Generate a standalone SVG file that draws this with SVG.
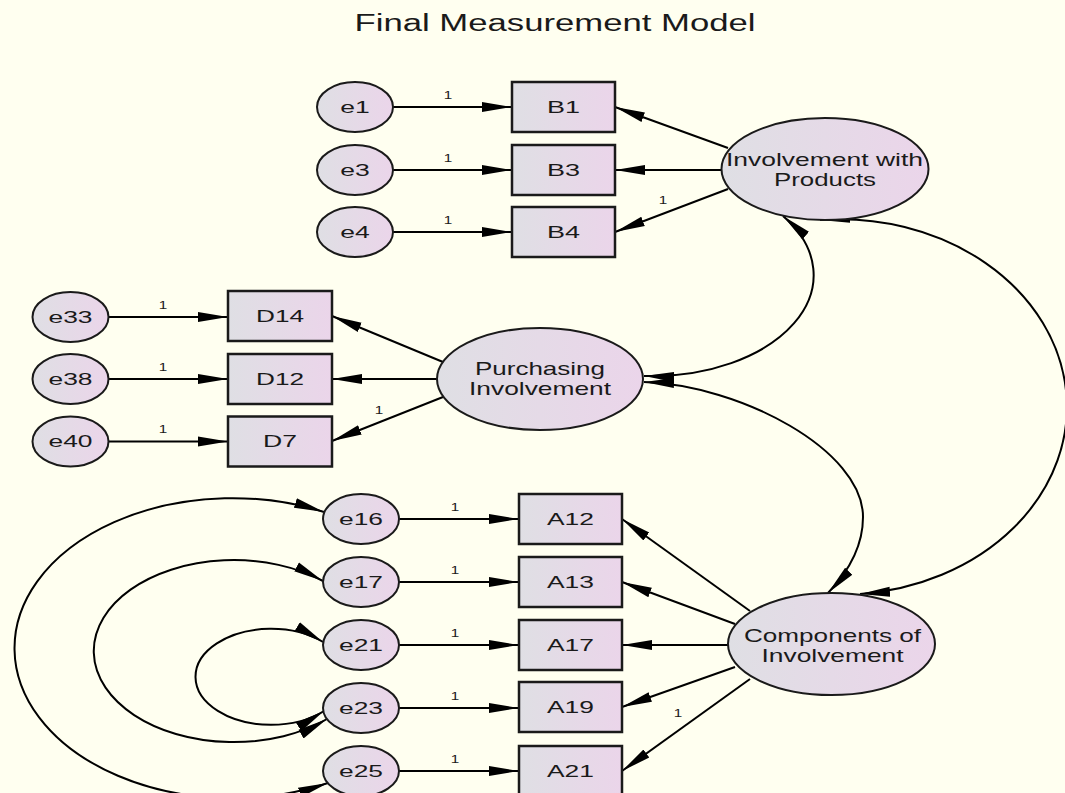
<svg xmlns="http://www.w3.org/2000/svg" width="1065" height="793" viewBox="0 0 1065 793">
<defs>
<linearGradient id="fill" x1="0" y1="0" x2="1" y2="0">
<stop offset="0" stop-color="#dfdfe4"/>
<stop offset="1" stop-color="#ebd5ea"/>
</linearGradient>
<marker id="ah" markerUnits="userSpaceOnUse" markerWidth="30" markerHeight="12" refX="30" refY="6" orient="auto-start-reverse" viewBox="0 0 30 12">
<path d="M0,1 L30,6 L0,11 Z" fill="#000"/>
</marker>
</defs>
<style>
.node rect{fill:url(#fill);stroke:#1a1a1a;stroke-width:2.5}
.node ellipse{fill:url(#fill);stroke:#1a1a1a;stroke-width:2}
text{font-family:"Liberation Sans",Arial,sans-serif;fill:#1a1a1a;text-anchor:middle}
.lbl{font-size:15.8px}
.big{font-size:17.8px}
.one{font-size:11px}
.title{font-size:23px}
#connectors path{stroke:#000;stroke-width:2;fill:none;marker-end:url(#ah)}
#connectors path.cov{marker-start:url(#ah)}
</style>
<rect x="0" y="0" width="1065" height="793" fill="#fffff0"/>
<text class="title" x="555" y="31" textLength="401" lengthAdjust="spacingAndGlyphs">Final Measurement Model</text>

<g id="connectors">
<path d="M393,107 H512"/>
<path d="M393,170 H512"/>
<path d="M393,232 H512"/>
<path d="M728,148 L615,107"/>
<path d="M721,170 L615,170"/>
<path d="M728,189 L615,232"/>
<path d="M108.5,317 H228"/>
<path d="M108.5,379 H228"/>
<path d="M108.5,441.5 H228"/>
<path d="M443,362 L332,316"/>
<path d="M437,379 L332,379"/>
<path d="M443,397 L332,441"/>
<path d="M399,519 H519"/>
<path d="M399,582 H519"/>
<path d="M399,645 H519"/>
<path d="M399,708 H519"/>
<path d="M399,771 H519"/>
<path d="M750,611 L622,519"/>
<path d="M735,624 L622,582"/>
<path d="M728,645 L622,645"/>
<path d="M735,667 L622,707"/>
<path d="M750,679 L622,771"/>
<path class="cov" d="M783,216 A162,101 0 0 1 644,376"/>
<path class="cov" d="M644,382 C740,385 863,450 863,517 C863,545 850,570 828,593"/>
<path class="cov" d="M820,220 A226,187 0 0 1 860,594"/>
<path class="cov" d="M324,512 A218,150 0 1 0 328,783"/>
<path class="cov" d="M323,581 A140,91 0 1 0 327,719"/>
<path class="cov" d="M323,642 A75.5,48 0 1 0 324,711"/>
<text class="one" x="448" y="98.5" textLength="8.5" lengthAdjust="spacingAndGlyphs">1</text>
<text class="one" x="448" y="161.5" textLength="8.5" lengthAdjust="spacingAndGlyphs">1</text>
<text class="one" x="448" y="223.5" textLength="8.5" lengthAdjust="spacingAndGlyphs">1</text>
<text class="one" x="663" y="204" textLength="8.5" lengthAdjust="spacingAndGlyphs">1</text>
<text class="one" x="163" y="308.5" textLength="8.5" lengthAdjust="spacingAndGlyphs">1</text>
<text class="one" x="163" y="370.5" textLength="8.5" lengthAdjust="spacingAndGlyphs">1</text>
<text class="one" x="163" y="433" textLength="8.5" lengthAdjust="spacingAndGlyphs">1</text>
<text class="one" x="379" y="414" textLength="8.5" lengthAdjust="spacingAndGlyphs">1</text>
<text class="one" x="455" y="510.5" textLength="8.5" lengthAdjust="spacingAndGlyphs">1</text>
<text class="one" x="455" y="573.5" textLength="8.5" lengthAdjust="spacingAndGlyphs">1</text>
<text class="one" x="455" y="636.5" textLength="8.5" lengthAdjust="spacingAndGlyphs">1</text>
<text class="one" x="455" y="699.5" textLength="8.5" lengthAdjust="spacingAndGlyphs">1</text>
<text class="one" x="455" y="762.5" textLength="8.5" lengthAdjust="spacingAndGlyphs">1</text>
<text class="one" x="678" y="717" textLength="8.5" lengthAdjust="spacingAndGlyphs">1</text>
</g>

<g id="e1" class="node"><ellipse cx="355" cy="107" rx="38" ry="25"/><text class="lbl" x="355" y="112.7" textLength="29.5" lengthAdjust="spacingAndGlyphs">e1</text></g>
<g id="e3" class="node"><ellipse cx="355" cy="170" rx="38" ry="25"/><text class="lbl" x="355" y="175.7" textLength="29.5" lengthAdjust="spacingAndGlyphs">e3</text></g>
<g id="e4" class="node"><ellipse cx="355" cy="232" rx="38" ry="25"/><text class="lbl" x="355" y="237.7" textLength="29.5" lengthAdjust="spacingAndGlyphs">e4</text></g>
<g id="B1" class="node"><rect x="512" y="82" width="103" height="50"/><text class="lbl" x="563.5" y="112.7" textLength="33" lengthAdjust="spacingAndGlyphs">B1</text></g>
<g id="B3" class="node"><rect x="512" y="145" width="103" height="50"/><text class="lbl" x="563.5" y="175.7" textLength="33" lengthAdjust="spacingAndGlyphs">B3</text></g>
<g id="B4" class="node"><rect x="512" y="207" width="103" height="50"/><text class="lbl" x="563.5" y="237.7" textLength="33" lengthAdjust="spacingAndGlyphs">B4</text></g>
<g id="IwP" class="node"><ellipse cx="825" cy="169" rx="103.5" ry="51"/><text class="big" x="824.5" y="166" textLength="197" lengthAdjust="spacingAndGlyphs">Involvement with</text><text class="big" x="825" y="185.5" textLength="102" lengthAdjust="spacingAndGlyphs">Products</text></g>

<g id="e33" class="node"><ellipse cx="70.5" cy="317" rx="38" ry="25"/><text class="lbl" x="70.5" y="322.7" textLength="44" lengthAdjust="spacingAndGlyphs">e33</text></g>
<g id="e38" class="node"><ellipse cx="70.5" cy="379" rx="38" ry="25"/><text class="lbl" x="70.5" y="384.7" textLength="44" lengthAdjust="spacingAndGlyphs">e38</text></g>
<g id="e40" class="node"><ellipse cx="70.5" cy="441.5" rx="38" ry="25"/><text class="lbl" x="70.5" y="447.2" textLength="44" lengthAdjust="spacingAndGlyphs">e40</text></g>
<g id="D14" class="node"><rect x="228" y="291" width="104" height="50"/><text class="lbl" x="280" y="321.7" textLength="48" lengthAdjust="spacingAndGlyphs">D14</text></g>
<g id="D12" class="node"><rect x="228" y="354" width="104" height="50"/><text class="lbl" x="280" y="384.7" textLength="48" lengthAdjust="spacingAndGlyphs">D12</text></g>
<g id="D7" class="node"><rect x="228" y="416.5" width="104" height="50"/><text class="lbl" x="280" y="447.2" textLength="34" lengthAdjust="spacingAndGlyphs">D7</text></g>
<g id="PI" class="node"><ellipse cx="540" cy="379" rx="103" ry="51"/><text class="big" x="540" y="375" textLength="130" lengthAdjust="spacingAndGlyphs">Purchasing</text><text class="big" x="540" y="394.5" textLength="142" lengthAdjust="spacingAndGlyphs">Involvement</text></g>

<g id="e16" class="node"><ellipse cx="361" cy="519" rx="38" ry="25"/><text class="lbl" x="361" y="524.7" textLength="44" lengthAdjust="spacingAndGlyphs">e16</text></g>
<g id="e17" class="node"><ellipse cx="361" cy="582" rx="38" ry="25"/><text class="lbl" x="361" y="587.7" textLength="44" lengthAdjust="spacingAndGlyphs">e17</text></g>
<g id="e21" class="node"><ellipse cx="361" cy="645" rx="38" ry="25"/><text class="lbl" x="361" y="650.7" textLength="44" lengthAdjust="spacingAndGlyphs">e21</text></g>
<g id="e23" class="node"><ellipse cx="361" cy="708" rx="38" ry="25"/><text class="lbl" x="361" y="713.7" textLength="44" lengthAdjust="spacingAndGlyphs">e23</text></g>
<g id="e25" class="node"><ellipse cx="361" cy="771" rx="38" ry="25"/><text class="lbl" x="361" y="776.7" textLength="44" lengthAdjust="spacingAndGlyphs">e25</text></g>
<g id="A12" class="node"><rect x="519" y="494" width="103" height="50"/><text class="lbl" x="570.5" y="524.7" textLength="47" lengthAdjust="spacingAndGlyphs">A12</text></g>
<g id="A13" class="node"><rect x="519" y="557" width="103" height="50"/><text class="lbl" x="570.5" y="587.7" textLength="47" lengthAdjust="spacingAndGlyphs">A13</text></g>
<g id="A17" class="node"><rect x="519" y="620" width="103" height="50"/><text class="lbl" x="570.5" y="650.7" textLength="47" lengthAdjust="spacingAndGlyphs">A17</text></g>
<g id="A19" class="node"><rect x="519" y="682" width="103" height="50"/><text class="lbl" x="570.5" y="712.7" textLength="47" lengthAdjust="spacingAndGlyphs">A19</text></g>
<g id="A21" class="node"><rect x="519" y="746" width="103" height="50"/><text class="lbl" x="570.5" y="776.7" textLength="47" lengthAdjust="spacingAndGlyphs">A21</text></g>
<g id="CoI" class="node"><ellipse cx="831.5" cy="644" rx="103.5" ry="51"/><text class="big" x="832.5" y="642" textLength="177" lengthAdjust="spacingAndGlyphs">Components of</text><text class="big" x="832.5" y="662" textLength="142" lengthAdjust="spacingAndGlyphs">Involvement</text></g>
</svg>
